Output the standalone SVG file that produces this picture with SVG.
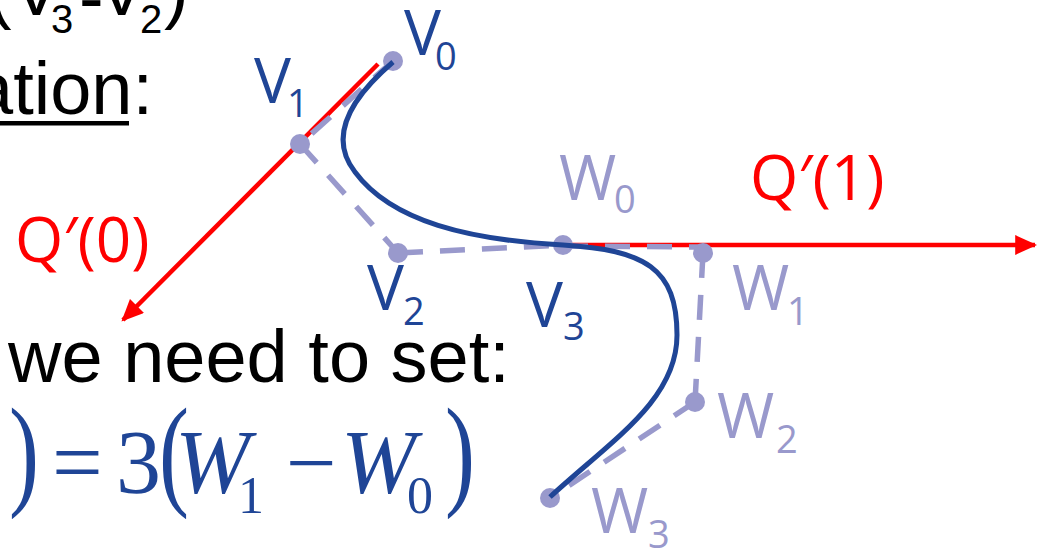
<svg xmlns="http://www.w3.org/2000/svg" width="1044" height="551" viewBox="0 0 1044 551">
<style>
.blk{font-family:"Liberation Sans",Arial,sans-serif;fill:#000}
.lbl{font-family:"Open Sans","Noto Sans",sans-serif;font-size:62px}
.sub{font-size:38px}
.vb{fill:#1f4596}
.wl{fill:#9999cc}
.rq{fill:#ff0000}
.eq{font-family:"Liberation Serif","Times New Roman",serif;fill:#1f4596;font-size:90px}
.eqs{font-size:52px}
.it{font-style:italic}
.dash{stroke:#9999cc;stroke-width:5.5;stroke-dasharray:25 17;fill:none}
.red{stroke:#ff0000;stroke-width:4.5;fill:none;marker-end:url(#ah)}
.dot{fill:#9999cc}
.curve{stroke:#1f4596;stroke-width:5;fill:none}
</style>
<defs>
<marker id="ah" markerUnits="strokeWidth" markerWidth="5" markerHeight="4.4" viewBox="0 0 10 9" refX="9" refY="4.5" orient="auto">
<path d="M0,0 L10,4.5 L0,9 Z" fill="#ff0000"/>
</marker>
</defs>
<g id="text-top">
<text class="blk" font-size="74"><tspan x="-13" y="15">(V</tspan><tspan x="51" y="33" font-size="40">3</tspan><tspan x="79" y="23">-</tspan><tspan x="97" y="15">V</tspan><tspan x="140" y="33" font-size="40">2</tspan><tspan x="164" y="15">)</tspan></text>
<text class="blk" font-size="74" x="-28" y="114">ation<tspan>:</tspan></text>
<rect x="0" y="121" width="129" height="4.5" fill="#000"/>
<text class="blk" font-size="74" x="8" y="382">we need to set:</text>
</g>
<g id="equation">
<text class="eq" transform="translate(9,493) scale(1,1.37)">)</text>
<text class="eq" x="52" y="493">=</text>
<text class="eq" x="116" y="493">3</text>
<text class="eq" transform="translate(159,493) scale(1,1.37)">(</text>
<text class="eq it" x="175" y="493">W</text>
<text class="eq eqs" x="238" y="513">1</text>
<text class="eq" x="286" y="493">−</text>
<text class="eq it" x="341" y="493">W</text>
<text class="eq eqs" x="407" y="513">0</text>
<text class="eq" transform="translate(445,493) scale(1,1.37)">)</text>
</g>
<g id="connectors">
<line class="red" x1="378" y1="64" x2="123" y2="320"/>
<line class="red" x1="565" y1="245" x2="1035" y2="245"/>
<line class="dash" x1="393" y1="61" x2="300" y2="144"/>
<line class="dash" x1="300" y1="144" x2="398" y2="253"/>
<line class="dash" x1="398" y1="253" x2="563" y2="245"/>
<line class="dash" x1="563" y1="246" x2="700" y2="247"/>
<line class="dash" x1="703" y1="253" x2="695" y2="402"/>
<line class="dash" x1="695" y1="402" x2="550" y2="498"/>
</g>
<g id="V0"><circle class="dot" cx="393" cy="61" r="10"/><text class="lbl vb" x="404" y="55">V</text><text class="lbl sub vb" x="435" y="70">0</text></g>
<g id="V1"><circle class="dot" cx="300" cy="144" r="10"/><text class="lbl vb" x="254" y="103">V</text><text class="lbl sub vb" x="287" y="117">1</text></g>
<g id="V2"><circle class="dot" cx="398" cy="253" r="10"/><text class="lbl vb" x="367" y="310">V</text><text class="lbl sub vb" x="403" y="325">2</text></g>
<g id="V3W0"><circle class="dot" cx="563" cy="245" r="10"/><text class="lbl vb" x="526" y="327">V</text><text class="lbl sub vb" x="563" y="340">3</text><text class="lbl wl" x="559" y="200">W</text><text class="lbl sub wl" x="614" y="213">0</text></g>
<g id="W1"><circle class="dot" cx="703" cy="253" r="10"/><text class="lbl wl" x="732" y="310">W</text><text class="lbl sub wl" x="787" y="325">1</text></g>
<g id="W2"><circle class="dot" cx="695" cy="402" r="10"/><text class="lbl wl" x="717" y="438">W</text><text class="lbl sub wl" x="776" y="453">2</text></g>
<g id="W3"><circle class="dot" cx="550" cy="498" r="10"/><text class="lbl wl" x="591" y="533">W</text><text class="lbl sub wl" x="648" y="548">3</text></g>
<g id="curve">
<path class="curve" d="M393,62 C345,103 330,140 355,172 C392,222 470,240 563,245 C645,250 677,268 677,335 C677,400 612,440 550,497"/>
</g>
<g id="Q0"><text class="lbl rq" x="15" y="262">Q′(0)</text></g>
<g id="Q1"><text class="lbl rq" x="750" y="200">Q′(1)</text></g>
</svg>
